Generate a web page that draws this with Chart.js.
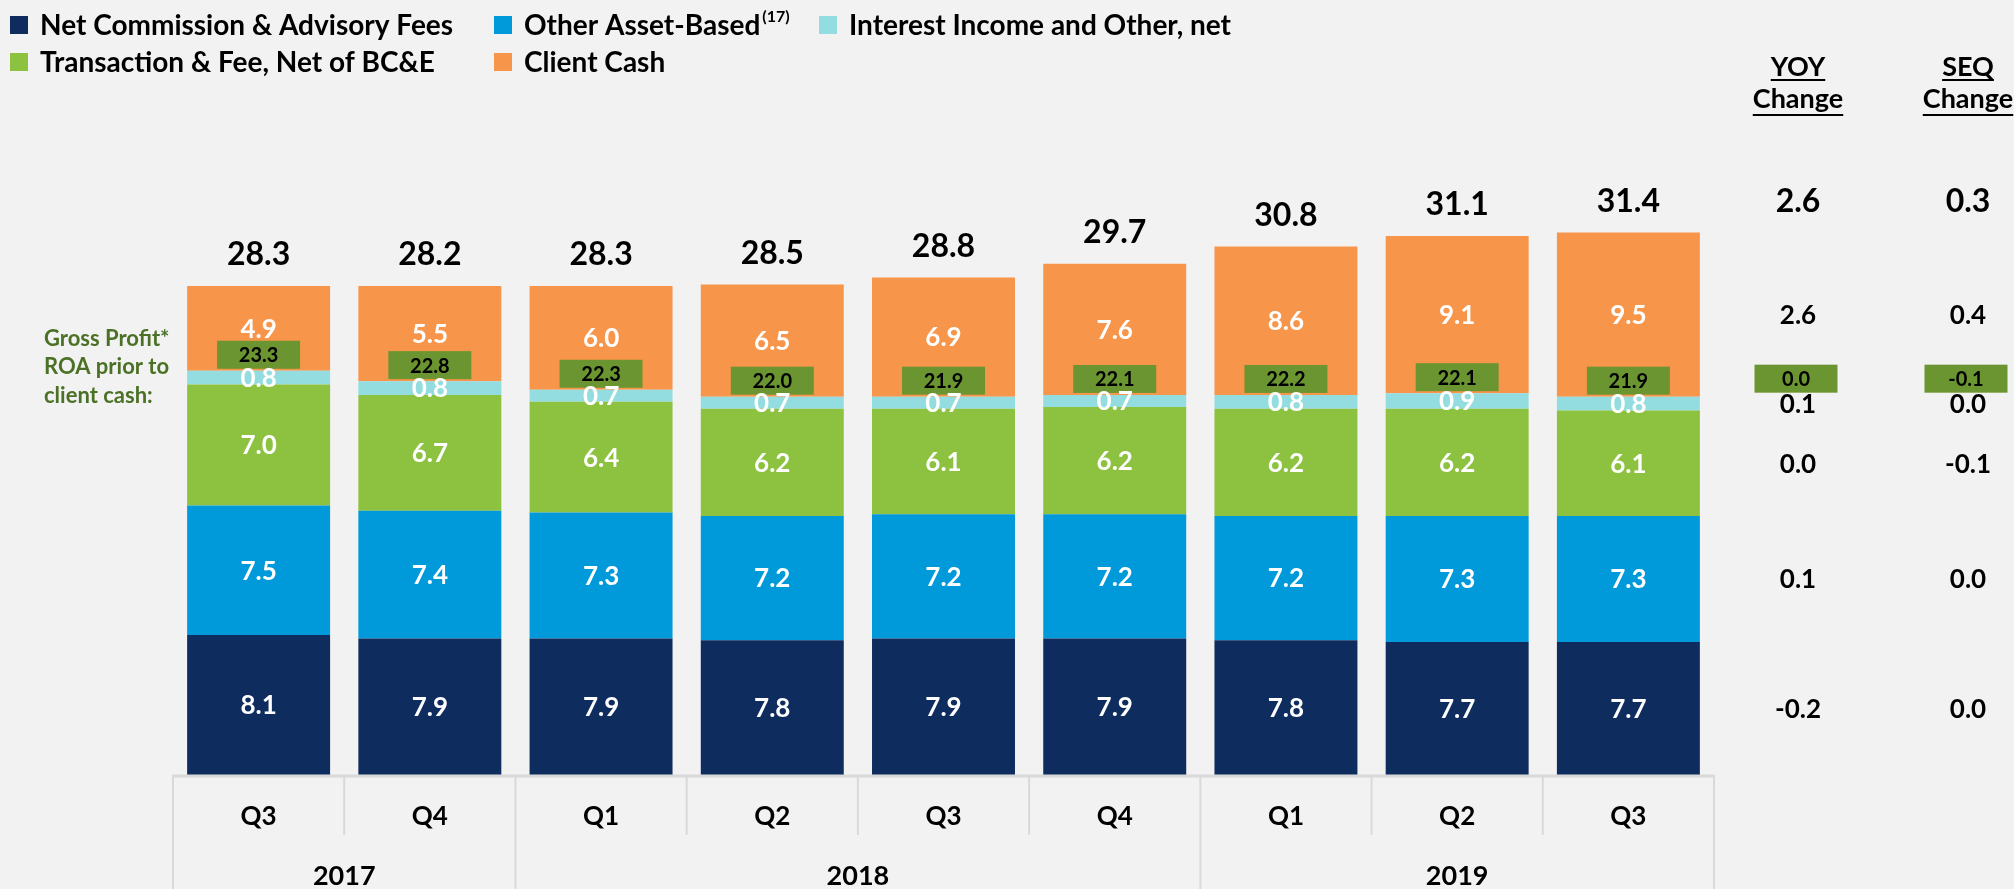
<!DOCTYPE html>
<html>
<head>
<meta charset="utf-8">
<script src="https://cdn.jsdelivr.net/npm/chart.js@4.4.1/dist/chart.umd.min.js"></script>
<style>
  html, body { margin: 0; padding: 0; background: #f2f2f2; }
  #wrap { width: 2014px; height: 889px; }
</style>
</head>
<body>
<div id="wrap"><canvas id="grafico" width="2014" height="889"></canvas></div>
<script>
const quarters = ['Q3', 'Q4', 'Q1', 'Q2', 'Q3', 'Q4', 'Q1', 'Q2', 'Q3'];
const years = ['2017', '2018', '2019'];
const yearSpans = [2, 4, 3];

const netCommission = [8.1, 7.9, 7.9, 7.8, 7.9, 7.9, 7.8, 7.7, 7.7];
const otherAsset = [7.5, 7.4, 7.3, 7.2, 7.2, 7.2, 7.2, 7.3, 7.3];
const transactionFee = [7.0, 6.7, 6.4, 6.2, 6.1, 6.2, 6.2, 6.2, 6.1];
const interestIncome = [0.8, 0.8, 0.7, 0.7, 0.7, 0.7, 0.8, 0.9, 0.8];
const clientCash = [4.9, 5.5, 6.0, 6.5, 6.9, 7.6, 8.6, 9.1, 9.5];
const totals = [28.3, 28.2, 28.3, 28.5, 28.8, 29.7, 30.8, 31.1, 31.4];
const grossProfitRoa = [23.3, 22.8, 22.3, 22.0, 21.9, 22.1, 22.2, 22.1, 21.9];

// change columns, same order as the stack (bottom to top)
const yoyChange = [-0.2, 0.1, 0.0, 0.1, 2.6];
const seqChange = [0.0, 0.0, -0.1, 0.0, 0.4];
const yoyTotal = 2.6, seqTotal = 0.3;
const yoyRoa = 0.0, seqRoa = -0.1;

const FONT = 'Lato, "Open Sans", sans-serif';
const BOX_GREEN = '#6a9530';
const TEXT_GREEN = '#4b7126';
const GRID = '#d9d9d9';

const datasets = [
    { label: 'Net Commission & Advisory Fees', data: netCommission, backgroundColor: '#0e2d5e' },
    { label: 'Other Asset-Based', sup: '(17)', data: otherAsset, backgroundColor: '#0099da' },
    { label: 'Transaction & Fee, Net of BC&E', data: transactionFee, backgroundColor: '#8cc23f' },
    { label: 'Interest Income and Other, net', data: interestIncome, backgroundColor: '#93dde0' },
    { label: 'Client Cash', data: clientCash, backgroundColor: '#f7964a' }
];
// legend reads row by row: navy, blue, cyan / green, orange
const legendOrder = [0, 1, 3, 2, 4];

function fmt(v) {
    return v.toFixed(1);
}

function text(ctx, str, x, y, font, color, align) {
    ctx.font = font;
    ctx.fillStyle = color;
    ctx.textAlign = align || 'center';
    ctx.textBaseline = 'middle';
    ctx.fillText(str, x, y);
}

function roaBox(ctx, cx, bottom, value) {
    const w = 83, h = 28;
    ctx.fillStyle = BOX_GREEN;
    ctx.fillRect(cx - w / 2, bottom - h, w, h);
    text(ctx, fmt(value), cx, bottom - h / 2 + 1, 'bold 20px ' + FONT, '#000');
}

const backgroundPlugin = {
    id: 'fundo',
    beforeDraw(chart) {
        const ctx = chart.ctx;
        ctx.save();
        ctx.fillStyle = '#f2f2f2';
        ctx.fillRect(0, 0, chart.width, chart.height);
        ctx.restore();
    }
};

const decorPlugin = {
    id: 'decor',
    afterDatasetsDraw(chart) {
        const ctx = chart.ctx;
        const area = chart.chartArea;
        const xs = chart.scales.x;
        const n = quarters.length;
        const step = xs.getPixelForValue(1) - xs.getPixelForValue(0);
        const edge = i => xs.getPixelForValue(0) - step / 2 + i * step;
        ctx.save();

        // category table below the bars
        const qBottom = area.bottom + 60;
        ctx.strokeStyle = GRID;
        ctx.lineWidth = 2;
        const yearEdges = [0];
        yearSpans.forEach(s => yearEdges.push(yearEdges[yearEdges.length - 1] + s));
        for (let i = 0; i <= n; i++) {
            const isYear = yearEdges.includes(i);
            ctx.beginPath();
            ctx.moveTo(edge(i), area.bottom);
            ctx.lineTo(edge(i), isYear ? chart.height : qBottom);
            ctx.stroke();
        }
        ctx.lineWidth = 3;
        ctx.beginPath();
        ctx.moveTo(edge(0), area.bottom + 1);
        ctx.lineTo(edge(n), area.bottom + 1);
        ctx.stroke();

        quarters.forEach((q, i) => {
            text(ctx, q, xs.getPixelForValue(i), area.bottom + 42, 'bold 26px ' + FONT, '#000');
        });
        years.forEach((yr, k) => {
            const cx = (edge(yearEdges[k]) + edge(yearEdges[k + 1])) / 2;
            text(ctx, yr, cx, area.bottom + 101, 'bold 27px ' + FONT, '#000');
        });

        // gross profit ROA boxes, sitting on top of the interest segment
        const interestMeta = chart.getDatasetMeta(3);
        const boxBottoms = interestMeta.data.map(el => el.y - 2);
        interestMeta.data.forEach((el, i) => roaBox(ctx, el.x, boxBottoms[i], grossProfitRoa[i]));

        // segment labels
        chart.data.datasets.forEach((ds, d) => {
            chart.getDatasetMeta(d).data.forEach((el, i) => {
                text(ctx, fmt(ds.data[i]), el.x, (el.y + el.base) / 2 + 1, 'bold 26px ' + FONT, '#fff');
            });
        });

        // totals above each bar
        const topMeta = chart.getDatasetMeta(4);
        topMeta.data.forEach((el, i) => {
            text(ctx, fmt(totals[i]), el.x, el.y - 31, 'bold 32px ' + FONT, '#000');
        });

        // left caption
        const firstBoxMid = boxBottoms[0] - 14;
        ['Gross Profit*', 'ROA prior to', 'client cash:'].forEach((line, k) => {
            text(ctx, line, 44, firstBoxMid - 16 + k * 28.5, 'bold 22px ' + FONT, TEXT_GREEN, 'left');
        });

        // YOY / SEQ change columns, aligned to the last bar
        const last = n - 1;
        const cols = [
            { x: area.right + 84, title: 'YOY', values: yoyChange, total: yoyTotal, roa: yoyRoa },
            { x: area.right + 254, title: 'SEQ', values: seqChange, total: seqTotal, roa: seqRoa }
        ];
        cols.forEach(col => {
            [[col.title, 67, 79], ['Change', 99, 114]].forEach(([str, y, uy]) => {
                text(ctx, str, col.x, y, 'bold 27px ' + FONT, '#000');
                const w = ctx.measureText(str).width;
                ctx.fillStyle = '#000';
                ctx.fillRect(col.x - w / 2, uy, w, 2);
            });
            text(ctx, fmt(col.total), col.x, topMeta.data[last].y - 31, 'bold 32px ' + FONT, '#000');
            col.values.forEach((v, d) => {
                const el = chart.getDatasetMeta(d).data[last];
                text(ctx, fmt(v), col.x, (el.y + el.base) / 2 + 1, 'bold 26px ' + FONT, '#000');
            });
            roaBox(ctx, col.x - 2, boxBottoms[last] - 2, col.roa);
        });

        // legend
        const colX = [10, 494, 819];
        legendOrder.forEach((d, k) => {
            const ds = chart.data.datasets[d];
            const x = colX[k < 3 ? k : k - 3];
            const y = k < 3 ? 25 : 62;
            ctx.fillStyle = ds.backgroundColor;
            ctx.fillRect(x, y - 9, 18, 18);
            text(ctx, ds.label, x + 30, y + 1, 'bold 28px ' + FONT, '#000', 'left');
            if (ds.sup) {
                const w = ctx.measureText(ds.label).width;
                text(ctx, ds.sup, x + 32 + w, y - 8, 'bold 16px ' + FONT, '#000', 'left');
            }
        });

        ctx.restore();
    }
};

const canvas = document.getElementById('grafico');
new Chart(canvas, {
    type: 'bar',
    data: {
        labels: quarters,
        datasets: datasets
    },
    options: {
        responsive: false,
        animation: false,
        events: [],
        datasets: {
            bar: { categoryPercentage: 1.0, barPercentage: 0.835 }
        },
        layout: {
            padding: { left: 173, right: 300, top: 84, bottom: 114 }
        },
        scales: {
            x: { stacked: true, display: false },
            y: { stacked: true, display: false, min: 0, max: 40 }
        },
        plugins: {
            legend: { display: false },
            tooltip: { enabled: false }
        }
    },
    plugins: [backgroundPlugin, decorPlugin]
});
</script>
</body>
</html>
